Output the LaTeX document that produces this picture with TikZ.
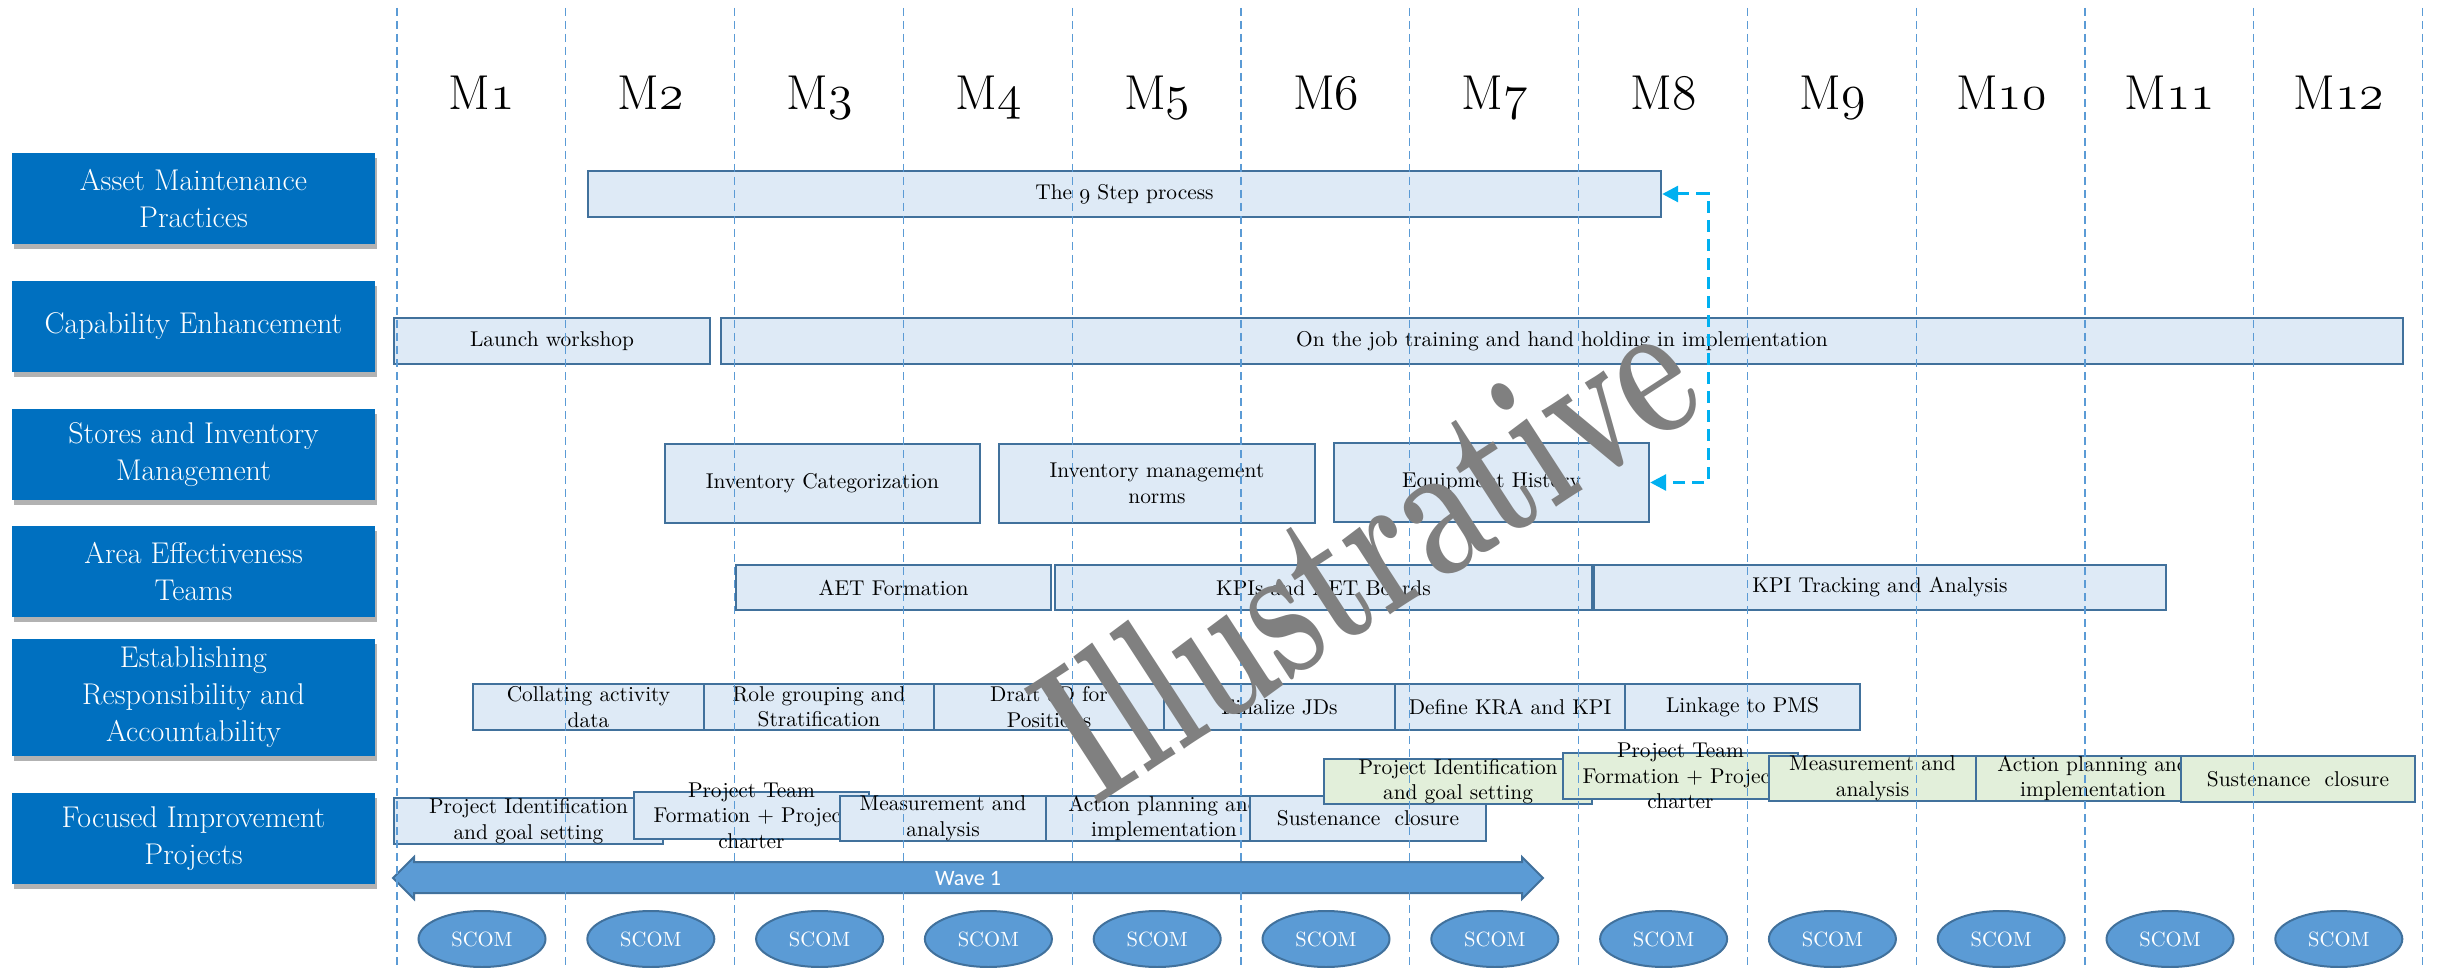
\documentclass[tikz,border=0pt]{standalone}
\usepackage{fontspec}
\newfontfamily\wavefont{Carlito}
\usetikzlibrary{shapes.geometric,arrows.meta,shadows}
\definecolor{catblue}{HTML}{0070C0}
\definecolor{taskfill}{HTML}{DEEAF6}
\definecolor{taskline}{HTML}{41719C}
\definecolor{greenfill}{HTML}{E2EFDA}
\definecolor{midblue}{HTML}{5B9BD5}
\definecolor{gridblue}{HTML}{5B9BD5}
\definecolor{cyanarrow}{HTML}{00B0F0}
\definecolor{wmgray}{HTML}{808080}
\newcommand{\osn}[1]{{\usefont{OML}{lmm}{m}{it}#1}}
\tikzset{
 catbox/.style={fill=catblue, text=white, font=\fontsize{15}{18.5}\selectfont, align=center, inner sep=0pt,
   drop shadow={shadow xshift=1pt, shadow yshift=-2.5pt, fill=black, opacity=0.3}},
 taskbox/.style={draw=taskline, line width=1.2pt, fill=taskfill, inner sep=0pt},
 greenbox/.style={taskbox, fill=greenfill},
 tasktext/.style={font=\fontsize{10.7}{12.8}\selectfont, align=center, inner sep=0pt},
 scom/.style={ellipse, draw=taskline, line width=1pt, fill=midblue, text=white, font=\fontsize{10.3}{12}\selectfont,
   minimum width=63.5pt, minimum height=28pt, inner sep=0pt},
 month/.style={font=\fontsize{24.5}{28}\selectfont, anchor=base},
 gridline/.style={gridblue, line width=0.6pt, dash pattern=on 4pt off 2.5pt},
 link/.style={cyanarrow, line width=1.5pt, dash pattern=on 6pt off 3.5pt,
   arrows={Triangle[length=8pt,width=8pt]-Triangle[length=8pt,width=8pt]}},
 wavebody/.style={fill=midblue, draw=taskline, line width=1pt},
 wavetext/.style={text=white, font=\wavefont\fontsize{11}{13}\selectfont},
 watermark/.style={text=wmgray, font=\fontsize{100}{100}\bfseries\selectfont, inner sep=0pt},
}
% box: style, name, x1, y1, x2, y2, text
\newcommand{\bx}[7]{%
 \node[#1, minimum width={(#5-#3)*0.5pt}, minimum height={(#6-#4)*0.5pt}] (#2) at ({(#3+#5)/2},{(#4+#6)/2}) {};
 \node[tasktext] (#2t) at (#2.center) {#7};}
% category box: name, y1, y2, text
\newcommand{\cb}[4]{%
 \node[catbox, minimum width=181.5pt, minimum height={(#3-#2)*0.5pt}] (#1) at (193.5,{(#2+#3)/2}) {#4};}
\begin{document}
\begin{tikzpicture}[x=0.5pt,y=-0.5pt]
\useasboundingbox (0,0) rectangle (2441,968);

% month labels
\foreach \k in {1,...,12}{
  \node[month] (m\k) at ({482+168.8*(\k-1)},110) {M\osn{\k}};
}

% category boxes
\cb{c1}{153}{244}{Asset Maintenance\\Practices}
\cb{c2}{281}{372}{Capability Enhancement}
\cb{c3}{409}{500}{Stores and Inventory\\Management}
\cb{c4}{526}{617}{Area Effectiveness\\Teams}
\cb{c5}{639}{756}{Establishing\\Responsibility and\\Accountability}
\cb{c6}{793}{884}{Focused Improvement\\Projects}

% row 1
\bx{taskbox}{step9}{588}{171}{1661}{217}{The \osn{9} Step process}
% row 2
\bx{taskbox}{launch}{394}{318}{710}{364}{Launch workshop}
\bx{taskbox}{ojt}{721}{318}{2403}{364}{On the job training and hand holding in implementation}
% row 3
\bx{taskbox}{invcat}{665}{444}{980}{523}{Inventory Categorization}
\bx{taskbox}{invnorm}{999}{444}{1315}{523}{Inventory management\\norms}
\bx{taskbox}{equip}{1334}{443}{1649}{522}{Equipment History}
% row 4
\bx{taskbox}{aet}{736}{565}{1051}{610}{AET Formation}
\bx{taskbox}{kpib}{1055}{565}{1592}{610}{KPIs and AET Boards}
\bx{taskbox}{kpit}{1594}{565}{2166}{610}{KPI Tracking and Analysis}
% row 5
\bx{taskbox}{coll}{473}{684}{704}{730}{Collating activity\\data}
\bx{taskbox}{role}{704}{684}{934}{730}{Role grouping and\\Stratification}
\bx{taskbox}{draft}{934}{684}{1164}{730}{Draft JD for\\Positions}
\bx{taskbox}{final}{1164}{684}{1395}{730}{Finalize JDs}
\bx{taskbox}{kra}{1395}{684}{1625}{730}{Define KRA and KPI}
\bx{taskbox}{pms}{1625}{684}{1860}{730}{Linkage to PMS}
% row 6 wave 1
\bx{taskbox}{pidA}{394}{798}{663}{844}{Project Identification\\and goal setting}
\bx{taskbox}{ptfA}{634}{792}{869}{839}{Project Team\\Formation + Project\\charter}
\bx{taskbox}{measA}{840}{796}{1046}{841}{Measurement and\\analysis}
\bx{taskbox}{actA}{1046}{796}{1282}{841}{Action planning and\\implementation}
\bx{taskbox}{susA}{1250}{796}{1486}{841}{Sustenance\ \ closure}
% row 6 wave 2
\bx{greenbox}{pidB}{1324}{759}{1592}{804}{Project Identification\\and goal setting}
\bx{greenbox}{ptfB}{1563}{753}{1798}{799}{Project Team\\Formation + Project\\charter}
\bx{greenbox}{measB}{1769}{756}{1976}{801}{Measurement and\\analysis}
\bx{greenbox}{actB}{1976}{756}{2210}{801}{Action planning and\\implementation}
\bx{greenbox}{susB}{2181}{756}{2415}{802}{Sustenance\ \ closure}

% wave 1 double arrow
\path[wavebody] (393,878) -- (414,857) -- (414,862) -- (1522,862) -- (1522,857) -- (1543,878)
  -- (1522,899) -- (1522,893) -- (414,893) -- (414,899) -- cycle;
\node[wavetext] (wave) at (968,878) {Wave 1};

% SCOM ellipses
\foreach \k in {1,...,12}{
  \node[scom] (s\k) at ({482+168.8*(\k-1)},939) {SCOM};
}

% grid lines
\foreach \i in {0,...,12}{
  \draw[gridline] ({397+168.8*\i},8) -- ({397+168.8*\i},968);
}

% cyan link
\coordinate (lk) at (1708,194);
\draw[link] (step9.east) -- (lk) |- (equip.east);

% watermark
\node[watermark, rotate=33, xscale=0.68, anchor=base] (wm) at (1403,607) {Illustrative};
\end{tikzpicture}
\end{document}
